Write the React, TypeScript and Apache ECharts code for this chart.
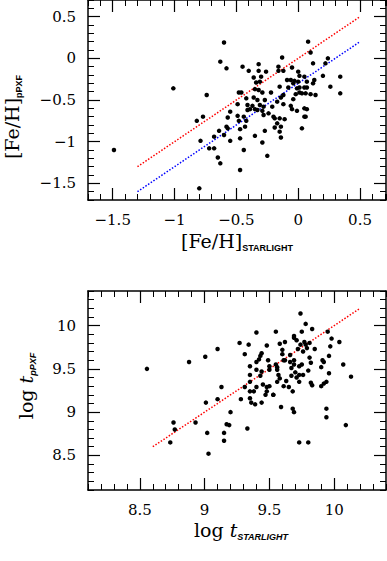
import React, { useEffect, useRef } from "react";
import * as echarts from "echarts";

// ---- Top panel: [Fe/H] STARLIGHT vs pPXF ----
const fehStarlight = [
  -1.49, -1.01, -0.60, -0.63, -0.58, -0.74, -0.82, -0.77, -0.79, -0.80,
  -0.68, -0.72, -0.68, -0.65, -0.63, -0.64, -0.60, -0.58, -0.57, -0.55,
  -0.57, -0.55, -0.48, -0.46, -0.45, -0.40, -0.47, -0.44, -0.47, -0.47,
  -0.48, -0.43, -0.42, -0.44, -0.49, -0.49, -0.41, -0.41, -0.42, -0.35,
  -0.36, -0.35, -0.39, -0.37, -0.35, -0.32, -0.32, -0.30, -0.31, -0.32,
  -0.29, -0.26, -0.33, -0.31, -0.33, -0.29, -0.28, -0.27, -0.28, -0.29,
  -0.27, -0.25, -0.22, -0.21, -0.20, -0.19, -0.19, -0.24, -0.16, -0.16,
  -0.13, -0.12, -0.15, -0.17, -0.14, -0.12, -0.12, -0.11, -0.15, -0.14,
  -0.15, -0.14, -0.17, -0.05, -0.06, -0.09, -0.08, -0.04, -0.04, -0.06,
  -0.05, -0.02, -0.01, 0.00, 0.01, 0.00, 0.01, 0.01, -0.01, 0.03,
  0.03, 0.05, 0.06, 0.05, 0.07, 0.08, 0.10, 0.05, 0.07, 0.07,
  0.05, 0.06, 0.12, 0.13, 0.12, 0.14, 0.20, 0.24, 0.22, 0.26,
  0.34, 0.34, -0.36, -0.34, 0.10, -0.03,
];
const fehPpxf = [
  -1.10, -0.36, 0.19, -0.04, -0.12, -0.44, -0.75, -0.70, -0.99, -1.56,
  -0.94, -1.08, -1.08, -1.19, -1.26, -0.87, -0.92, -0.82, -0.71, -0.64,
  -0.84, -0.99, -0.41, -0.41, -0.10, -0.15, -1.34, -1.10, -0.96, -0.85,
  -0.75, -0.82, -0.75, -0.70, -0.69, -0.55, -0.62, -0.56, -0.48, -0.37,
  -0.47, -0.93, -0.61, -0.57, -0.61, -0.07, -0.15, -0.22, -0.28, -0.38,
  -0.41, -0.16, -0.50, -0.56, -0.62, -0.63, -0.58, -0.50, -0.68, -1.01,
  -0.87, -1.17, -0.41, -0.58, -0.70, -0.72, -0.83, -0.66, -0.10, -0.15,
  0.01, -0.15, -0.34, -0.52, -0.47, -0.44, -0.55, -0.73, -0.72, -0.82,
  -0.88, -0.95, -0.78, -0.11, -0.26, -0.26, -0.35, -0.30, -0.49, -0.57,
  -0.61, -0.43, -0.36, -0.16, -0.21, -0.28, -0.35, -0.41, -0.63, -0.84,
  -0.42, -0.60, -0.70, -0.70, -0.61, 0.20, 0.07, -0.22, -0.28, -0.35,
  -0.35, -0.42, -0.06, -0.26, -0.30, -0.44, -0.21, 0.00, -0.06, -0.34,
  -0.22, -0.42, -0.23, -0.29, -0.43, -0.27,
];
const fehOneToOne = [[-1.3, -1.3], [0.5, 0.5]];
const fehOffsetLine = [[-1.3, -1.6], [0.5, 0.2]];
const fehTicks = [-1.5, -1, -0.5, 0, 0.5];

// ---- Bottom panel: log age STARLIGHT vs pPXF ----
const ageStarlight = [
  8.555, 8.735, 8.76, 8.77, 8.88, 8.93, 9.005, 9.01, 9.02, 9.03,
  9.10, 9.10, 9.13, 9.15, 9.15, 9.17, 9.19, 9.20, 9.27, 9.28,
  9.31, 9.31, 9.33, 9.34, 9.35, 9.35, 9.35, 9.35, 9.35, 9.36,
  9.38, 9.39, 9.40, 9.40, 9.40, 9.40, 9.42, 9.43, 9.43, 9.44,
  9.44, 9.44, 9.45, 9.47, 9.48, 9.48, 9.48, 9.50, 9.50, 9.50,
  9.49, 9.53, 9.55, 9.55, 9.56, 9.56, 9.56, 9.57, 9.58, 9.59,
  9.58, 9.60, 9.60, 9.61, 9.62, 9.62, 9.61, 9.63, 9.65, 9.66,
  9.66, 9.67, 9.67, 9.68, 9.68, 9.69, 9.69, 9.69, 9.69, 9.70,
  9.71, 9.71, 9.72, 9.73, 9.73, 9.73, 9.73, 9.74, 9.74, 9.75,
  9.75, 9.76, 9.76, 9.77, 9.78, 9.78, 9.79, 9.80, 9.80, 9.81,
  9.81, 9.82, 9.83, 9.82, 9.83, 9.85, 9.90, 9.91, 9.90, 9.92,
  9.92, 9.94, 9.94, 9.94, 9.95, 9.96, 9.96, 9.97, 9.98, 10.04,
  10.07, 10.09, 10.13, 9.69, 9.53,
];
const agePpxf = [
  9.50, 8.65, 8.88, 8.80, 9.58, 8.88, 9.64, 9.11, 8.76, 8.52,
  9.73, 9.15, 9.29, 8.76, 8.67, 8.86, 8.85, 9.00, 9.80, 9.15,
  9.67, 9.29, 8.81, 9.78, 9.53, 9.43, 9.35, 9.24, 9.16, 9.11,
  9.24, 9.09, 9.29, 9.92, 9.49, 9.58, 9.61, 9.65, 9.42, 9.68,
  9.47, 9.11, 9.32, 9.20, 9.24, 9.29, 9.77, 9.30, 9.53, 9.49,
  9.60, 9.20, 9.93, 9.55, 9.52, 9.35, 9.49, 9.43, 9.39, 9.06,
  9.79, 9.72, 9.67, 9.60, 9.81, 9.60, 9.30, 9.36, 9.29, 9.66,
  9.58, 9.51, 9.42, 9.24, 9.04, 9.86, 9.00, 9.60, 9.55, 9.46,
  9.40, 9.83, 9.73, 8.65, 9.53, 9.43, 9.35, 10.14, 9.78, 9.93,
  9.55, 9.43, 9.70, 9.81, 10.02, 9.78, 9.74, 9.48, 8.65, 9.63,
  9.80, 9.34, 9.31, 9.57, 9.96, 9.73, 9.30, 9.60, 9.52, 9.58,
  9.33, 9.04, 8.94, 9.35, 9.93, 9.65, 9.45, 9.76, 9.85, 9.81,
  9.55, 8.85, 9.41, 9.88, 9.20,
];
const ageOneToOne = [[8.6, 8.6], [10.2, 10.2]];
const ageTicks = [8.5, 9, 9.5, 10];

const SERIF = "'DejaVu Serif', serif";
const SANS = "'Liberation Sans', Arial, sans-serif";

const fmt = (v: number) => (v < 0 ? "\u2212" + String(Math.abs(v)) : String(v));

function zip(a: number[], b: number[]) {
  return a.map((x, i) => [x, b[i]]);
}

function makeAxes(
  gridIndex: number,
  dim: "x" | "y",
  min: number,
  max: number,
  majors: number[]
) {
  const positions = dim === "x" ? ["bottom", "top"] : ["left", "right"];
  const out: any[] = [];
  positions.forEach((pos, k) => {
    out.push({
      type: "value",
      gridIndex,
      position: pos,
      min,
      max,
      interval: 0.1,
      axisLine: { show: true, onZero: false, lineStyle: { color: "#000", width: 1.5 } },
      axisTick: { show: true, inside: true, length: 6, lineStyle: { color: "#000", width: 1 } },
      axisLabel: { show: false },
      splitLine: { show: false },
      minorTick: { show: false },
    });
    out.push({
      type: "value",
      gridIndex,
      position: pos,
      min,
      max,
      axisLine: { show: false, onZero: false },
      axisTick: {
        show: true,
        inside: true,
        length: 12,
        customValues: majors,
        lineStyle: { color: "#000", width: 1.2 },
      },
      axisLabel: {
        show: k === 0,
        customValues: majors,
        formatter: fmt,
        margin: 12,
        fontSize: 15,
        fontFamily: SERIF,
        color: "#000",
        showMinLabel: true,
        showMaxLabel: true,
      },
      splitLine: { show: false },
    });
  });
  return out;
}

const rich = (italicSub: boolean) => ({
  m: { fontFamily: SERIF, fontSize: 19, lineHeight: 22, color: "#000" },
  i: { fontFamily: SERIF, fontSize: 19, fontStyle: "italic", lineHeight: 22, color: "#000" },
  s: {
    fontFamily: SANS,
    fontSize: 9,
    fontWeight: "bold",
    fontStyle: italicSub ? "italic" : "normal",
    lineHeight: 8,
    verticalAlign: "bottom",
    color: "#000",
  },
});

export default function App() {
  const ref = useRef<HTMLDivElement>(null);
  useEffect(() => {
    if (!ref.current) return;
    const chart = echarts.init(ref.current, null, { renderer: "svg" });
    const xAxes = [
      ...makeAxes(0, "x", -1.7, 0.71, fehTicks),
      ...makeAxes(1, "x", 8.1, 10.4, ageTicks),
    ];
    const yAxes = [
      ...makeAxes(0, "y", -1.7, 0.7, fehTicks),
      ...makeAxes(1, "y", 8.1, 10.4, ageTicks),
    ];
    const dot = { color: "#000", opacity: 1 };
    chart.setOption({
      animation: false,
      backgroundColor: "#fff",
      grid: [
        { left: 88, top: 0, width: 298, height: 200 },
        { left: 88, top: 291, width: 298, height: 199 },
      ],
      xAxis: xAxes,
      yAxis: yAxes,
      series: [
        {
          type: "line",
          xAxisIndex: 0,
          yAxisIndex: 0,
          data: fehOneToOne,
          showSymbol: false,
          symbol: "none",
          lineStyle: { color: "#ff0000", width: 1.5, type: [1.5, 1.7] },
          z: 1,
        },
        {
          type: "line",
          xAxisIndex: 0,
          yAxisIndex: 0,
          data: fehOffsetLine,
          showSymbol: false,
          symbol: "none",
          lineStyle: { color: "#0000ff", width: 1.5, type: [1.5, 1.7] },
          z: 1,
        },
        {
          type: "scatter",
          xAxisIndex: 0,
          yAxisIndex: 0,
          data: zip(fehStarlight, fehPpxf),
          symbolSize: 4.5,
          itemStyle: dot,
          z: 2,
        },
        {
          type: "line",
          xAxisIndex: 4,
          yAxisIndex: 4,
          data: ageOneToOne,
          showSymbol: false,
          symbol: "none",
          lineStyle: { color: "#ff0000", width: 1.5, type: [1.5, 1.7] },
          z: 1,
        },
        {
          type: "scatter",
          xAxisIndex: 4,
          yAxisIndex: 4,
          data: zip(ageStarlight, agePpxf),
          symbolSize: 4.5,
          itemStyle: dot,
          z: 2,
        },
      ],
      graphic: [
        {
          type: "text",
          x: 237,
          y: 241,
          style: {
            text: "{m|[Fe/H]}{s|STARLIGHT}",
            rich: rich(false),
            align: "center",
            verticalAlign: "middle",
          },
        },
        {
          type: "text",
          x: 12,
          y: 117,
          rotation: Math.PI / 2,
          style: {
            text: "{m|[Fe/H]}{s|pPXF}",
            rich: rich(false),
            align: "center",
            verticalAlign: "middle",
          },
        },
        {
          type: "text",
          x: 241,
          y: 530,
          style: {
            text: "{m|log }{i|t}{s|STARLIGHT}",
            rich: rich(true),
            align: "center",
            verticalAlign: "middle",
          },
        },
        {
          type: "text",
          x: 26,
          y: 386,
          rotation: Math.PI / 2,
          style: {
            text: "{m|log }{i|t}{s|pPXF}",
            rich: rich(true),
            align: "center",
            verticalAlign: "middle",
          },
        },
      ],
    });
    return () => chart.dispose();
  }, []);
  return (
    <div
      ref={ref}
      style={{ position: "fixed", left: 0, top: 0, width: 387, height: 561, background: "#fff" }}
    />
  );
}
